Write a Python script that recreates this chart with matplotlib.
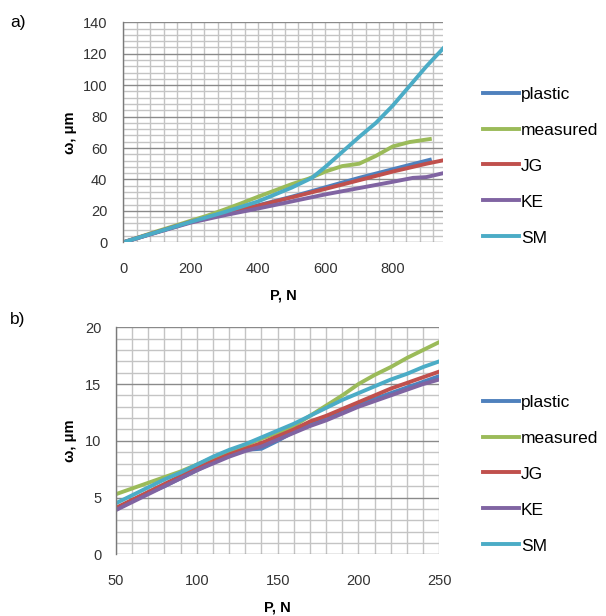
import numpy as np
import matplotlib
matplotlib.use("Agg")
import matplotlib.pyplot as plt

plt.rcParams["font.family"] = ["Liberation Sans", "DejaVu Sans"]

# ---- panel a) : full load range ----
a_plastic_P = [0, 100, 200, 300, 400, 500, 600, 700, 800, 910]
a_plastic_w = [0, 6.5, 13, 18.5, 23.5, 29, 35, 41, 46.5, 52.5]

a_measured_P = [0, 50, 100, 150, 200, 250, 300, 350, 400, 450, 500, 550, 600,
                650, 700, 750, 800, 850, 910]
a_measured_w = [0, 3.5, 7, 10.3, 13.7, 17, 20.8, 24.8, 29, 33, 37, 40.5, 45,
                48.5, 50, 55, 61, 63.8, 65.7]

a_jg_P = [0, 100, 200, 300, 400, 500, 600, 700, 800, 900, 950]
a_jg_w = [0, 6.5, 13, 18.3, 23.3, 28.6, 34, 39.5, 45, 50, 52.2]

a_ke_P = [0, 100, 200, 300, 400, 500, 600, 700, 800, 860, 900, 950]
a_ke_w = [0, 6.3, 12.5, 17.2, 21.5, 26, 30.5, 34.5, 38.5, 41, 41.5, 44]

a_sm_P = [0, 100, 200, 300, 400, 500, 560, 600, 650, 700, 750, 800, 850, 900, 950]
a_sm_w = [0, 6.5, 13, 19.2, 26, 34.8, 41, 48, 57.5, 67, 76, 87, 99.5, 112, 123.5]

# ---- panel b) : low load range ----
b_P = [50, 60, 70, 80, 90, 100, 110, 120, 130, 140, 150, 160, 170, 180, 190,
       200, 210, 220, 230, 240, 250]
b_plastic = [4.0, 4.7, 5.4, 6.0, 6.7, 7.4, 8.1, 8.7, 9.2, 9.3, 10.0, 10.8, 11.4,
             12.0, 12.6, 13.2, 13.7, 14.2, 14.7, 15.2, 15.7]
b_measured = [5.3, 5.8, 6.3, 6.8, 7.3, 7.9, 8.5, 9.1, 9.6, 10.2, 10.7, 11.3, 12.2,
              13.1, 14.0, 15.0, 15.8, 16.5, 17.3, 18.0, 18.7]
b_jg = [4.1, 4.8, 5.5, 6.2, 6.9, 7.6, 8.2, 8.8, 9.3, 9.8, 10.4, 11.0, 11.7, 12.2,
        12.8, 13.4, 14.0, 14.6, 15.1, 15.6, 16.1]
b_ke = [3.9, 4.6, 5.3, 6.0, 6.7, 7.4, 8.0, 8.6, 9.1, 9.5, 10.1, 10.7, 11.3, 11.8,
        12.4, 13.0, 13.5, 14.0, 14.5, 15.0, 15.4]
b_sm = [4.5, 5.2, 5.9, 6.6, 7.2, 7.9, 8.6, 9.2, 9.7, 10.3, 10.9, 11.5, 12.2, 12.9,
        13.6, 14.2, 14.8, 15.4, 15.9, 16.5, 17.0]

labels = ["plastic", "measured", "JG", "KE", "SM"]
colors = ["#4F81BD", "#9BBB59", "#C0504D", "#8064A2", "#4BACC6"]

W, H = 606, 616
fig = plt.figure(figsize=(W / 100, H / 100), dpi=100)


def px_axes(left, top, right, bottom):
    return fig.add_axes([left / W, 1 - bottom / H, (right - left) / W, (bottom - top) / H])


def style(ax, xlim, ylim, xmaj, xmin_step, ymaj, ymin_step, xpad, ypad):
    ax.set_xlim(*xlim)
    ax.set_ylim(*ylim)
    ax.set_xticks(np.arange(xlim[0], xlim[1] + 1e-9, xmaj))
    ax.set_xticks(np.arange(xlim[0], xlim[1] + 1e-9, xmin_step), minor=True)
    ax.set_yticks(np.arange(ylim[0], ylim[1] + 1e-9, ymaj))
    ax.set_yticks(np.arange(ylim[0], ylim[1] + 1e-9, ymin_step), minor=True)
    ax.grid(which="minor", axis="both", color="#c4c4c4", lw=1.0)
    ax.grid(which="major", axis="x", color="#c4c4c4", lw=1.0)
    ax.grid(which="major", axis="y", color="#8a8a8a", lw=1.0)
    ax.set_axisbelow(True)
    for s in ("top", "right", "bottom"):
        ax.spines[s].set_visible(False)
    ax.spines["left"].set_color("#7a7a7a")
    ax.spines["left"].set_linewidth(1.0)
    ax.tick_params(which="both", length=0, labelsize=10.5, colors="#333333")
    ax.tick_params(axis="x", pad=xpad)
    ax.tick_params(axis="y", pad=ypad)


lw = 2.8

# panel a
ax1 = px_axes(123.3, 22.3, 443.3, 242.3)
style(ax1, (0, 950), (0, 140), 200, 40, 20, 4, 14, 11.5)
ax1.plot(a_plastic_P, a_plastic_w, color=colors[0], lw=lw, label=labels[0])
ax1.plot(a_measured_P, a_measured_w, color=colors[1], lw=lw, label=labels[1])
ax1.plot(a_jg_P, a_jg_w, color=colors[2], lw=lw, label=labels[2])
ax1.plot(a_ke_P, a_ke_w, color=colors[3], lw=lw, label=labels[3])
ax1.plot(a_sm_P, a_sm_w, color=colors[4], lw=lw, label=labels[4])
ax1.set_xlabel("P, N", fontsize=10.5, fontweight="bold", va="center")
ax1.xaxis.set_label_coords(0.5, -(295 - 242.3) / 220)
ax1.set_ylabel("ω, μm", fontsize=10.5, fontweight="bold", va="center")
ax1.yaxis.set_label_coords((70 - 123.3) / 320, 0.5)

# panel b
ax2 = px_axes(116, 327.3, 439.3, 554.3)
style(ax2, (50, 250), (0, 20), 50, 10, 5, 1, 14, 10.5)
ax2.plot(b_P, b_plastic, color=colors[0], lw=lw, label=labels[0])
ax2.plot(b_P, b_measured, color=colors[1], lw=lw, label=labels[1])
ax2.plot(b_P, b_jg, color=colors[2], lw=lw, label=labels[2])
ax2.plot(b_P, b_ke, color=colors[3], lw=lw, label=labels[3])
ax2.plot(b_P, b_sm, color=colors[4], lw=lw, label=labels[4])
ax2.set_xlabel("P, N", fontsize=10.5, fontweight="bold", va="center")
ax2.xaxis.set_label_coords(0.5, -(608 - 554.3) / 227)
ax2.set_ylabel("ω, μm", fontsize=10.5, fontweight="bold", va="center")
ax2.yaxis.set_label_coords((70 - 116) / 323.3, 0.5)

legend_kw = dict(loc="center left", frameon=False, fontsize=12.5, handlelength=2.07,
                 handletextpad=0.12, labelspacing=1.2, borderpad=0, borderaxespad=0,
                 bbox_transform=fig.transFigure)
ax1.legend(bbox_to_anchor=(483 / W, 1 - 166 / H), **legend_kw)
ax2.legend(bbox_to_anchor=(483 / W, 1 - 474 / H), **legend_kw)

fig.text(10 / W, 1 - 22 / H, "a)", fontsize=12.5, va="center", ha="left")
fig.text(10 / W, 1 - 320 / H, "b)", fontsize=12.5, va="center", ha="left")

fig.savefig("out.png", dpi=100)
